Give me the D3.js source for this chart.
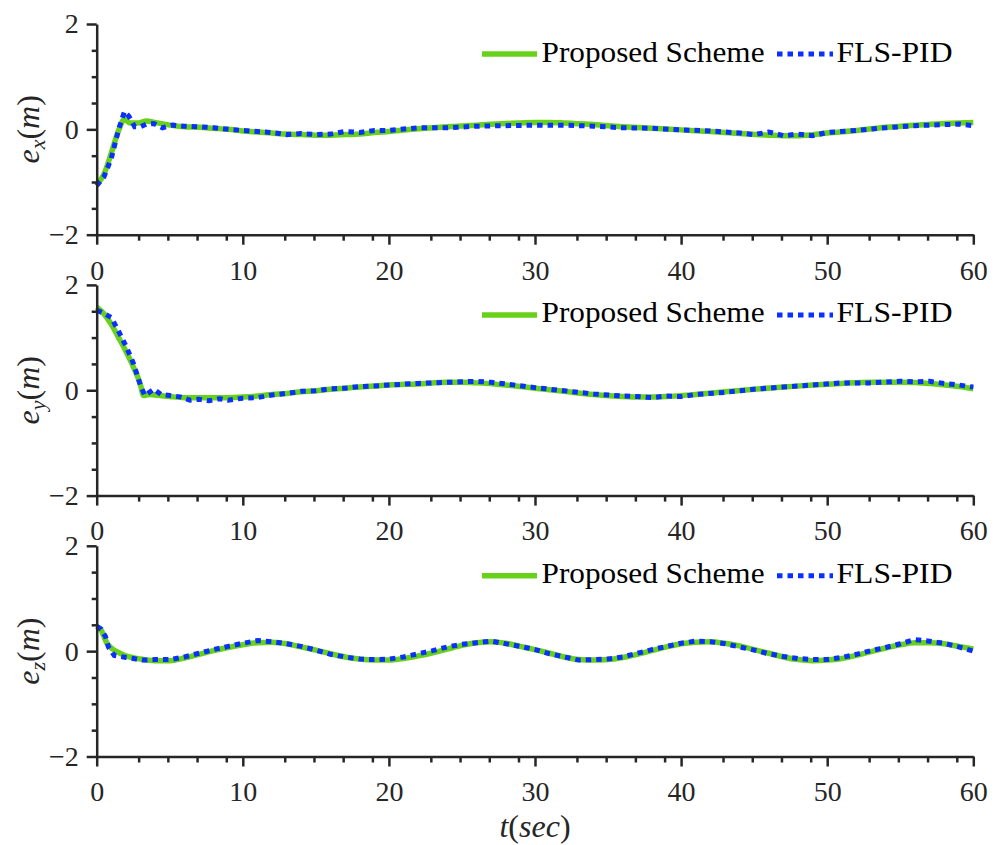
<!DOCTYPE html>
<html><head><meta charset="utf-8">
<script src="https://cdn.jsdelivr.net/npm/d3@7"></script>
<style>body{margin:0;background:#fff}svg{display:block}</style>
</head><body><svg id="c" width="1003" height="845"></svg>
<script>
// ---- data ----
const xTicks = [0, 10, 20, 30, 40, 50, 60];
const yTicks = [-2, 0, 2];
const legendLabels = ["Proposed Scheme", "FLS-PID"];

const exT_p = [0,0.5,1,1.5,1.9,2.3,2.8,3.4,4,5,6,7,8,9,10,11,12,13,14,15,16,17,18,19,20,22,24,26,28,30,31,32,34,36,38,40,42,44,46,47,48,49,50,52,54,56,58,60];
const exProposed = [-1.05,-0.85,-0.45,-0.02,0.19,0.12,0.12,0.16,0.13,0.08,0.05,0.04,0.02,0.0,-0.03,-0.05,-0.07,-0.09,-0.1,-0.11,-0.11,-0.1,-0.09,-0.06,-0.04,0.01,0.05,0.08,0.11,0.13,0.13,0.12,0.09,0.05,0.02,-0.01,-0.04,-0.08,-0.11,-0.12,-0.12,-0.1,-0.07,-0.02,0.04,0.08,0.11,0.13];
const exT_f = [0,0.5,1,1.5,1.9,2.2,2.6,3.0,3.4,3.9,4.5,5.2,6,7,8,9,10,11,12,13,14,15,16,17,18,19,20,22,24,26,28,30,32,34,36,38,40,42,44,45,46,47,48,49,50,52,54,56,58,59,60];
const exFLS = [-1.07,-0.9,-0.55,0.0,0.34,0.25,0.05,0.05,0.1,0.11,0.03,0.08,0.06,0.05,0.03,0.0,-0.02,-0.04,-0.06,-0.1,-0.08,-0.1,-0.09,-0.04,-0.06,-0.02,-0.02,0.03,0.03,0.06,0.07,0.08,0.08,0.06,0.03,0.02,-0.01,-0.03,-0.07,-0.1,-0.05,-0.12,-0.09,-0.12,-0.06,-0.02,0.03,0.07,0.09,0.1,0.07];

const eyT_p = [0,0.5,1,1.5,2,2.5,3,3.2,3.6,4,5,6,7,8,9,10,11,12,13,14,15,16,17,18,19,20,22,24,25,26,28,30,32,34,36,37.5,39,41,43,45,47,49,51,53,55,57,59,60];
const eyProposed = [1.58,1.45,1.25,1.0,0.74,0.45,0.1,-0.1,-0.08,-0.09,-0.12,-0.14,-0.14,-0.14,-0.14,-0.13,-0.11,-0.08,-0.06,-0.03,-0.01,0.02,0.04,0.06,0.08,0.1,0.12,0.15,0.15,0.14,0.1,0.04,-0.02,-0.08,-0.12,-0.13,-0.12,-0.08,-0.03,0.02,0.06,0.1,0.13,0.15,0.15,0.13,0.07,0.03];
const eyT_f = [0,0.5,1,1.5,2,2.5,3,3.3,3.9,4.4,5,5.8,6.4,7,7.7,8.4,9,10,11,12,13,14,15,16,17,18,19,20,22,24,25,26,27,28,30,32,34,36,37,38,39,40,41,43,45,47,49,51,53,55,56,57,58,59,60];
const eyFLS = [1.52,1.46,1.38,1.12,0.84,0.52,0.09,-0.1,0.02,-0.08,-0.1,-0.13,-0.19,-0.17,-0.2,-0.16,-0.19,-0.15,-0.14,-0.09,-0.06,-0.02,-0.01,0.03,0.04,0.07,0.08,0.1,0.13,0.15,0.16,0.17,0.15,0.12,0.05,-0.01,-0.07,-0.11,-0.12,-0.14,-0.11,-0.12,-0.08,-0.04,0.02,0.06,0.1,0.14,0.14,0.17,0.16,0.17,0.13,0.1,0.06];

const ezT_p = [0,0.3,0.7,1,1.6,2,3,4,5,6,7,8,9,10,11,12,13,14,15,16,17,18,19,20,21,22,23,24,25,26,27,28,29,30,31,32,33,34,35,36,37,38,39,40,41,42,43,44,45,46,47,48,49,50,51,52,53,54,55,56,57,58,59,60];
const ezProposed = [0.47,0.4,0.15,0.06,-0.04,-0.09,-0.15,-0.18,-0.18,-0.13,-0.06,0.01,0.07,0.12,0.16,0.17,0.14,0.08,0.02,-0.05,-0.11,-0.15,-0.17,-0.17,-0.14,-0.09,-0.03,0.04,0.11,0.16,0.18,0.15,0.09,0.03,-0.04,-0.11,-0.16,-0.17,-0.16,-0.12,-0.06,0.01,0.08,0.14,0.17,0.18,0.15,0.1,0.03,-0.04,-0.11,-0.16,-0.18,-0.17,-0.14,-0.08,-0.01,0.06,0.12,0.16,0.16,0.14,0.09,0.04];
const ezT_f = [0,0.3,0.6,0.8,1.2,2,2.5,3.1,4,5,6,7,8,9,10,11,12,13,14,15,16,17,18,19,20,21,22,23,24,25,26,27,28,29,30,31,32,33,34,35,36,37,38,39,40,41,42,43,44,45,46,47,48,49,50,51,52,53,54,55,56,57,58,59,60];
const ezFLS = [0.47,0.42,0.28,0.08,-0.08,-0.12,-0.14,-0.17,-0.16,-0.16,-0.11,-0.04,0.03,0.09,0.15,0.2,0.18,0.14,0.09,0.02,-0.06,-0.11,-0.15,-0.16,-0.15,-0.11,-0.05,0.01,0.08,0.13,0.16,0.19,0.14,0.09,0.03,-0.05,-0.11,-0.17,-0.16,-0.15,-0.11,-0.04,0.03,0.09,0.15,0.19,0.18,0.14,0.08,0.02,-0.05,-0.1,-0.14,-0.16,-0.16,-0.12,-0.06,0.01,0.07,0.14,0.22,0.19,0.15,0.08,0.0];

const panels = [
  {sub: "x", p: [exT_p, exProposed], f: [exT_f, exFLS]},
  {sub: "y", p: [eyT_p, eyProposed], f: [eyT_f, eyFLS]},
  {sub: "z", p: [ezT_p, ezProposed], f: [ezT_f, ezFLS]}
];

// ---- drawing ----
const svg = d3.select("#c");
const L = 96.7, R = 973.3, H = 210.7, step = 260.9, top0 = 24;
const green = "#68d11a", blue = "#0a30ff", axc = "#262626";
const FF = '"Liberation Serif", serif';
const x = d3.scaleLinear().domain([0, 60]).range([L, R]);
const minorX = [];
for (let k = 0; k < 60; k += 10) [2.87, 4.87, 6.87, 8.87].forEach(d => minorX.push(k + d));
const minorY = [-1.5, -1, -0.5, 0.5, 1, 1.5];
const pts = (arr) => arr[0].map((t, j) => [t, arr[1][j]]);

panels.forEach((pn, i) => {
  const top = top0 + i * step, bot = top + H;
  const y = d3.scaleLinear().domain([-2, 2]).range([bot, top]);
  const g = svg.append("g");

  g.append("path").datum(pts(pn.p))
    .attr("d", d3.line().x(d => x(d[0])).y(d => y(d[1])).curve(d3.curveMonotoneX))
    .attr("fill", "none").attr("stroke", green).attr("stroke-width", 5.5).attr("stroke-linejoin", "round");
  g.append("path").datum(pts(pn.f))
    .attr("d", d3.line().x(d => x(d[0])).y(d => y(d[1])))
    .attr("fill", "none").attr("stroke", blue).attr("stroke-width", 5).attr("stroke-dasharray", "5.5,5");

  const ax = g.append("g").attr("transform", `translate(0,${bot})`)
    .call(d3.axisBottom(x).tickValues(xTicks).tickSize(10).tickSizeOuter(0).tickPadding(15).tickFormat(d3.format("d")));
  g.append("g").attr("transform", `translate(0,${bot})`)
    .call(d3.axisBottom(x).tickValues(minorX).tickSize(6).tickFormat("")).call(s => s.select(".domain").remove());
  g.append("g").attr("transform", `translate(${L},0)`)
    .call(d3.axisLeft(y).tickValues(yTicks).tickSize(10).tickSizeOuter(0).tickPadding(8).tickFormat(d3.format("d")));
  g.append("g").attr("transform", `translate(${L},0)`)
    .call(d3.axisLeft(y).tickValues(minorY).tickSize(5).tickFormat("")).call(s => s.select(".domain").remove());
  g.selectAll(".domain, .tick line").attr("stroke", axc).attr("stroke-width", 2.5);
  g.selectAll(".tick text").attr("fill", axc).style("font-family", FF).style("font-size", "28px");
  ax.selectAll(".tick text").attr("dy", "0.71em");

  const yl = g.append("text").attr("transform", `translate(39,${y(0)}) rotate(-90)`)
    .attr("text-anchor", "middle").style("font-family", FF).style("font-size", "32px").attr("fill", axc);
  yl.append("tspan").style("font-style", "italic").text("e");
  yl.append("tspan").style("font-style", "italic").style("font-size", "22px").attr("dy", 6).text(pn.sub);
  yl.append("tspan").attr("dy", -6).text("(");
  yl.append("tspan").style("font-style", "italic").text("m");
  yl.append("tspan").text(")");

  const ly = top + 30;
  g.append("line").attr("x1", 482).attr("x2", 537).attr("y1", ly).attr("y2", ly)
    .attr("stroke", green).attr("stroke-width", 5.5);
  g.append("text").attr("x", 541.5).attr("y", ly + 7.5).text(legendLabels[0])
    .attr("textLength", 223).attr("lengthAdjust", "spacingAndGlyphs")
    .style("font-family", FF).style("font-size", "29px").attr("fill", "#000");
  g.append("line").attr("x1", 777).attr("x2", 833).attr("y1", ly).attr("y2", ly)
    .attr("stroke", blue).attr("stroke-width", 5).attr("stroke-dasharray", "5.5,5");
  g.append("text").attr("x", 836.5).attr("y", ly + 7.5).text(legendLabels[1])
    .attr("textLength", 116).attr("lengthAdjust", "spacingAndGlyphs")
    .style("font-family", FF).style("font-size", "29px").attr("fill", "#000");
});

const xl = svg.append("text").attr("x", (L + R) / 2).attr("y", 837).attr("text-anchor", "middle")
  .style("font-family", FF).style("font-size", "32px").attr("fill", axc);
xl.append("tspan").style("font-style", "italic").text("t");
xl.append("tspan").text("(");
xl.append("tspan").style("font-style", "italic").text("sec");
xl.append("tspan").text(")");
</script></body></html>
